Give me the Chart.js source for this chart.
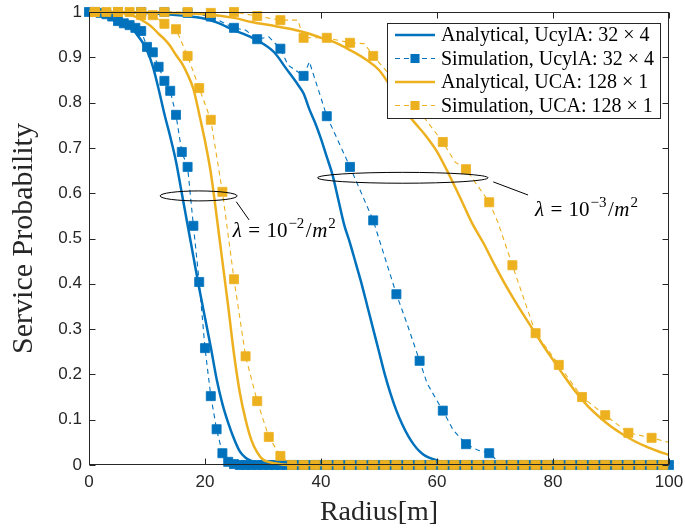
<!DOCTYPE html>
<html><head><meta charset="utf-8">
<script src="https://cdn.jsdelivr.net/npm/chart.js@4.4.0/dist/chart.umd.min.js"></script>
<style>html,body{margin:0;padding:0;background:#fff}</style>
</head><body>
<canvas id="c" width="685" height="529"></canvas>
<script>
// ---------------- data ----------------
const xTicks = [0, 20, 40, 60, 80, 100];
const xTickLabels = ['0', '20', '40', '60', '80', '100'];
const yTicks = [0, 0.1, 0.2, 0.3, 0.4, 0.5, 0.6, 0.7, 0.8, 0.9, 1];
const yTickLabels = ['0', '0.1', '0.2', '0.3', '0.4', '0.5', '0.6', '0.7', '0.8', '0.9', '1'];

// Analytical, UcylA, lambda = 1e-2
const anaU2X = [0,2,4,6,8,10,11,12,13,14,15,16,17,18,19,20,21,22,23,24,25,26,27,28,29,30,32,100];
const anaU2Y = [1,0.997,0.99,0.978,0.955,0.915,0.88,0.83,0.775,0.725,0.67,0.6,0.53,0.46,0.39,0.325,0.26,0.19,0.135,0.093,0.058,0.03,0.016,0.009,0.004,0.001,0,0];
// Analytical, UcylA, lambda = 1e-3
const anaU3X = [0,10,16,20,22,25,28,30,32,34,36,37,38,39,40,41,42,43,44,45,46,47,48,49,50,51,52,53,54,55,56,57,58,60,62,64,100];
const anaU3Y = [1,0.998,0.992,0.985,0.977,0.96,0.944,0.93,0.91,0.875,0.84,0.82,0.785,0.755,0.72,0.68,0.64,0.585,0.53,0.49,0.445,0.4,0.35,0.3,0.25,0.2,0.157,0.12,0.09,0.065,0.045,0.03,0.02,0.01,0.002,0,0];
// Analytical, UCA, lambda = 1e-2
const anaC2X = [0,4,6,8,10,11,12,13,14,15,16,17,18,19,20,21,22,23,24,25,26,27,28,29,30,32,35,100];
const anaC2Y = [1,0.999,0.997,0.99,0.975,0.965,0.952,0.94,0.925,0.905,0.887,0.862,0.83,0.775,0.715,0.645,0.55,0.45,0.35,0.245,0.16,0.1,0.055,0.028,0.012,0.004,0,0];
// Analytical, UCA, lambda = 1e-3
const anaC3X = [0,10,20,25,28,32,35,38,40,42,45,48,50,52,54,56,58,60,62,64,66,68,70,72,74,76,78,80,82,84,86,88,90,92,94,96,98,100];
const anaC3Y = [1,0.999,0.995,0.987,0.978,0.969,0.962,0.952,0.943,0.935,0.916,0.893,0.872,0.835,0.79,0.758,0.728,0.692,0.643,0.59,0.535,0.49,0.44,0.393,0.35,0.31,0.27,0.232,0.195,0.16,0.13,0.106,0.085,0.068,0.053,0.041,0.031,0.022];

// Simulation, UcylA, lambda = 1e-2 (marker at every point)
const simU2X = [0,1,2,3,4,5,6,7,8,9,10,11,12,13,14,15,16,17,18,19,20,21,22,23,24,25,26,27,28,29,30,31,32,33,34,35,36,37,38,39,40,41,42,43,44,45,46,47,48,49,50,51,52,53,54,55,56,57,58,59,60,61,62,63,64,65,66,67,68,69,70,71,72,73,74,75,76,77,78,79,80,81,82,83,84,85,86,87,88,89,90,91,92,93,94,95,96,97,98,99,100];
const simU2Y = [1,1,0.998,0.995,0.99,0.98,0.975,0.971,0.965,0.958,0.923,0.911,0.879,0.848,0.826,0.773,0.691,0.658,0.528,0.404,0.258,0.152,0.079,0.026,0.007,0.002,0,0,0,0,0,0,0,0,0,0,0,0,0,0,0,0,0,0,0,0,0,0,0,0,0,0,0,0,0,0,0,0,0,0,0,0,0,0,0,0,0,0,0,0,0,0,0,0,0,0,0,0,0,0,0,0,0,0,0,0,0,0,0,0,0,0,0,0,0,0,0,0,0,0,0];
// Simulation, UCA, lambda = 1e-2 (marker at every point)
const simC2X = [1,3,5,7,9,11,13,15,17,19,21,23,25,27,29,31,33,35,37,39,41,43,45,47,49,51,53,55,57,59,61,63,65,67,69,71,73,75,77,79,81,83,85,87,89,91,93,95,97,99];
const simC2Y = [1,1,1,1,0.993,0.993,0.974,0.962,0.903,0.832,0.762,0.603,0.41,0.24,0.141,0.062,0.02,0,0,0,0,0,0,0,0,0,0,0,0,0,0,0,0,0,0,0,0,0,0,0,0,0,0,0,0,0,0,0,0,0];
// Simulation, UcylA, lambda = 1e-3 (mk = 1 where a marker is drawn)
const simU3X = [1,5,9,13,17,21,25,27,29,31,33,34.3,37,38,41,45,49,53,54.8,57,58.3,61,62.8,65,67,69,71,73,77,81,85,89,93,97,100];
const simU3Y = [1,1,1,1,0.998,0.99,0.965,0.96,0.94,0.945,0.919,0.883,0.859,0.89,0.77,0.658,0.54,0.377,0.313,0.23,0.18,0.12,0.077,0.046,0.033,0.026,0.002,0,0,0,0,0,0,0,0];
const simU3M = [1,1,1,1,1,1,1,0,1,0,1,0,1,0,1,1,1,1,0,1,0,1,0,1,0,1,0,1,1,1,1,1,1,1,0];
// Simulation, UCA, lambda = 1e-3
const simC3X = [1,5,9,13,17,21,25,29,33,36,37,41,45,47.5,49,53,57,61,63.1,65,69,70.5,73,77,81,85,89,93,97,100];
const simC3Y = [1,1,1,1,1,0.998,1,0.991,0.982,0.982,0.943,0.943,0.932,0.93,0.903,0.845,0.78,0.713,0.669,0.653,0.58,0.536,0.441,0.291,0.221,0.15,0.11,0.071,0.06,0.05];
const simC3M = [1,1,1,1,1,1,1,1,1,0,1,1,1,0,1,1,1,1,0,1,1,0,1,1,1,1,1,1,1,0];

const legendLabels = ['Analytical, UcylA: 32 \u00d7 4', 'Simulation, UcylA: 32 \u00d7 4', 'Analytical, UCA: 128 \u00d7 1', 'Simulation, UCA: 128 \u00d7 1'];

// annotations (data coordinates)
const ell1 = {x: 18.9, y: 0.594, rx: 6.64, ry: 0.011};
const ell2 = {x: 54.1, y: 0.634, rx: 14.7, ry: 0.012};
const lead1 = [[25.4, 0.581], [27.6, 0.541]];
const lead2 = [[69.7, 0.625], [75.7, 0.596]];
const txt1 = {x: 24.8, y: 0.503, exp: '\u22122'};
const txt2 = {x: 76.9, y: 0.549, exp: '\u22123'};

// ---------------- styles ----------------
const BLUE = '#0072BD';
const YEL = '#EDB120';
const AXC = '#262626';
const SERIF = '"Liberation Serif", "DejaVu Serif", serif';
const SANS = '"Liberation Sans", Arial, sans-serif';
const MR = 6.4;

function pts(xs, ys) { return xs.map((x, i) => ({x: x, y: ys[i]})); }

function anaDS(xs, ys, color) {
  return {data: pts(xs, ys), borderColor: color, backgroundColor: color, borderWidth: 2.5,
    pointRadius: 0, cubicInterpolationMode: 'monotone', fill: false, clip: 4};
}
function simDS(xs, ys, mk, color) {
  return {data: pts(xs, ys), borderColor: color, backgroundColor: color, borderWidth: 1.1,
    borderDash: [5, 4], pointStyle: 'rect',
    pointRadius: mk ? (c => mk[c.dataIndex] ? MR : 0) : MR,
    pointBorderWidth: 0.8, pointBorderColor: color, pointBackgroundColor: color,
    tension: 0, fill: false, clip: false};
}

// top-most first
const datasets = [
  simDS(simC2X, simC2Y, null, YEL),
  simDS(simC3X, simC3Y, simC3M, YEL),
  anaDS(anaC2X, anaC2Y, YEL),
  anaDS(anaC3X, anaC3Y, YEL),
  simDS(simU2X, simU2Y, null, BLUE),
  simDS(simU3X, simU3Y, simU3M, BLUE),
  anaDS(anaU2X, anaU2Y, BLUE),
  anaDS(anaU3X, anaU3Y, BLUE)
];

function drawLambda(ctx, px, py, exp, fs) {
  ctx.save();
  ctx.fillStyle = '#000';
  ctx.textBaseline = 'alphabetic';
  ctx.textAlign = 'left';
  let x = px;
  const it = 'italic ' + fs + 'px ' + SERIF;
  const rm = fs + 'px ' + SERIF;
  const sm = Math.round(fs * 0.7) + 'px ' + SERIF;
  ctx.font = it; ctx.fillText('\u03bb', x, py); x += ctx.measureText('\u03bb').width + fs * 0.3;
  ctx.font = rm; ctx.fillText('=', x, py); x += ctx.measureText('=').width + fs * 0.3;
  ctx.fillText('10', x, py); x += ctx.measureText('10').width + 1;
  ctx.font = sm; ctx.fillText(exp, x, py - fs * 0.42); x += ctx.measureText(exp).width + 1.5;
  ctx.font = rm; ctx.fillText('/', x, py); x += ctx.measureText('/').width + 0.5;
  ctx.font = it; ctx.fillText('m', x, py); x += ctx.measureText('m').width + 1;
  ctx.font = sm; ctx.fillText('2', x, py - fs * 0.42);
  ctx.restore();
}

const annot = {
  id: 'annot',
  afterDatasetsDraw(chart) {
    const ctx = chart.ctx, xs = chart.scales.x, ys = chart.scales.y;
    const X = v => xs.getPixelForValue(v), Y = v => ys.getPixelForValue(v);
    ctx.save();
    ctx.strokeStyle = '#000'; ctx.lineWidth = 1;
    [ell1, ell2].forEach(e => {
      const cx = X(e.x), cy = Y(e.y);
      const rx = X(e.x + e.rx) - cx, ry = cy - Y(e.y + e.ry);
      ctx.beginPath(); ctx.ellipse(cx, cy, rx, ry, 0, 0, Math.PI * 2); ctx.stroke();
    });
    [lead1, lead2].forEach(l => {
      ctx.beginPath(); ctx.moveTo(X(l[0][0]), Y(l[0][1])); ctx.lineTo(X(l[1][0]), Y(l[1][1])); ctx.stroke();
    });
    ctx.restore();
    drawLambda(ctx, X(txt1.x), Y(txt1.y), txt1.exp, 21);
    drawLambda(ctx, X(txt2.x), Y(txt2.y), txt2.exp, 21);
  },
  afterDraw(chart) {
    const ctx = chart.ctx, a = chart.chartArea;
    const xs = chart.scales.x, ys = chart.scales.y;
    const L = Math.round(a.left) + 0.5, R = Math.round(a.right) - 0.5;
    const T = Math.round(a.top) + 0.5, B = Math.round(a.bottom) - 0.5;
    ctx.save();
    ctx.strokeStyle = AXC; ctx.lineWidth = 1;
    ctx.strokeRect(L, T, R - L, B - T);
    const tl = 6;
    ctx.beginPath();
    xTicks.forEach(v => {
      const p = Math.round(xs.getPixelForValue(v)) + 0.5;
      ctx.moveTo(p, B); ctx.lineTo(p, B - tl);
      ctx.moveTo(p, T); ctx.lineTo(p, T + tl);
    });
    yTicks.forEach(v => {
      const p = Math.round(ys.getPixelForValue(v)) + 0.5;
      ctx.moveTo(L, p); ctx.lineTo(L + tl, p);
      ctx.moveTo(R, p); ctx.lineTo(R - tl, p);
    });
    ctx.stroke();

    // legend
    const bx = 387.5, by = 23.5, bw = 273, bh = 95;
    ctx.fillStyle = '#fff';
    ctx.fillRect(bx, by, bw, bh);
    ctx.strokeStyle = AXC; ctx.lineWidth = 1;
    ctx.strokeRect(bx, by, bw, bh);
    const rows = [35, 58.5, 82, 105.5];
    const styles = [
      {c: BLUE, sim: false}, {c: BLUE, sim: true}, {c: YEL, sim: false}, {c: YEL, sim: true}
    ];
    rows.forEach((ry, i) => {
      const s = styles[i];
      ctx.save();
      ctx.strokeStyle = s.c; ctx.fillStyle = s.c;
      ctx.lineWidth = s.sim ? 1.1 : 2.5;
      ctx.setLineDash(s.sim ? [5, 4] : []);
      ctx.beginPath(); ctx.moveTo(395, ry); ctx.lineTo(435, ry); ctx.stroke();
      if (s.sim) {
        const h = MR * Math.SQRT1_2;
        ctx.fillRect(415 - h, ry - h, 2 * h, 2 * h);
      }
      ctx.restore();
      ctx.fillStyle = '#000';
      ctx.font = '20px ' + SERIF;
      ctx.textBaseline = 'middle';
      ctx.textAlign = 'left';
      ctx.fillText(legendLabels[i], 441, ry + 1);
    });
    ctx.restore();
  }
};

new Chart(document.getElementById('c'), {
  type: 'line',
  data: {datasets: datasets},
  options: {
    responsive: false, animation: false, devicePixelRatio: 1,
    layout: {padding: {left: 0, right: 16, top: 12, bottom: 0}},
    plugins: {legend: {display: false}, tooltip: {enabled: false}},
    scales: {
      x: {
        type: 'linear', min: 0, max: 100,
        afterBuildTicks: s => { s.ticks = xTicks.map(v => ({value: v})); },
        afterFit: s => { s.height = 64; s.paddingLeft = 0; s.paddingRight = 0; },
        grid: {display: false, drawTicks: false}, border: {display: false},
        ticks: {color: AXC, font: {family: SANS, size: 17}, padding: 7, maxRotation: 0,
          callback: (v) => xTickLabels[xTicks.indexOf(v)]},
        title: {display: true, text: 'Radius[m]', color: AXC, font: {family: SERIF, size: 28}, padding: {top: 5, bottom: 0}}
      },
      y: {
        type: 'linear', min: 0, max: 1,
        afterBuildTicks: s => { s.ticks = yTicks.map(v => ({value: v})); },
        afterFit: s => { s.width = 89; s.paddingTop = 0; s.paddingBottom = 0; },
        grid: {display: false, drawTicks: false}, border: {display: false},
        ticks: {color: AXC, font: {family: SANS, size: 17}, padding: 7,
          callback: (v) => { const i = yTicks.findIndex(t => Math.abs(t - v) < 1e-9); return yTickLabels[i]; }},
        title: {display: true, text: 'Service Probability', color: AXC, font: {family: SERIF, size: 30}, padding: {top: 6, bottom: 0}}
      }
    }
  },
  plugins: [annot]
});
</script>
</body></html>
